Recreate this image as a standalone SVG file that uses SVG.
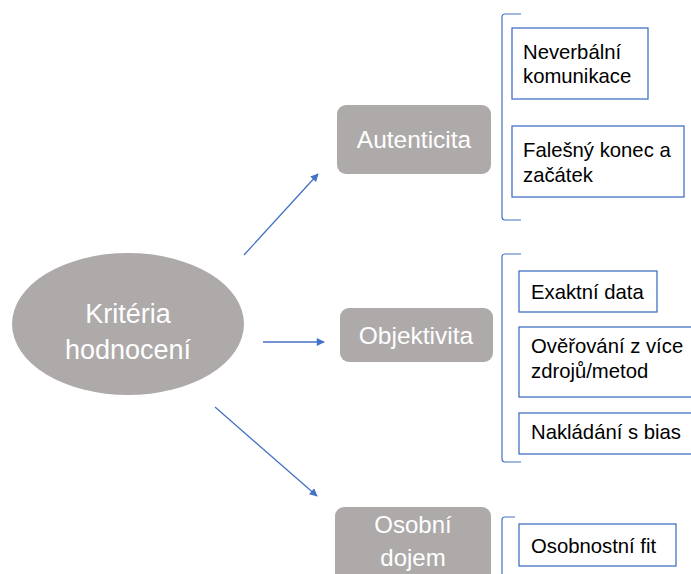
<svg xmlns="http://www.w3.org/2000/svg" width="691" height="574" viewBox="0 0 691 574">
<style>
.main{fill:#AEAAAA}
.wt{fill:#fff;font-family:"Liberation Sans",Arial,sans-serif;text-anchor:middle}
.box{fill:#fff;stroke:#4472C4;stroke-width:1.3}
.bt{fill:#000;font-family:"Liberation Sans",Arial,sans-serif;font-size:20.3px}
.br{fill:none;stroke:#4472C4;stroke-width:1.2}
.conn{fill:none;stroke:#4472C4;stroke-width:1.3;marker-end:url(#ah)}
</style>
<defs>
<marker id="ah" viewBox="0 0 10 10" refX="9" refY="5" markerWidth="9" markerHeight="8" orient="auto" markerUnits="userSpaceOnUse">
<path d="M0,0 L10,5 L0,10 z" fill="#4472C4"/>
</marker>
</defs>
<rect width="691" height="574" fill="#fff"/>
<g id="connectors">
<line class="conn" x1="244" y1="255" x2="318" y2="174"/>
<line class="conn" x1="263" y1="342" x2="324" y2="342"/>
<line class="conn" x1="215" y1="407" x2="317" y2="496"/>
</g>
<g id="root">
<ellipse class="main" cx="128" cy="324" rx="116" ry="71"/>
<text class="wt" font-size="27" x="128" y="323">Kritéria</text>
<text class="wt" font-size="27" x="128" y="359">hodnocení</text>
</g>
<g id="autenticita">
<rect class="main" x="337" y="105" width="154" height="69" rx="9"/>
<text class="wt" font-size="24.5" x="414" y="148">Autenticita</text>
</g>
<g id="objektivita">
<rect class="main" x="340" y="308" width="153" height="54" rx="9"/>
<text class="wt" font-size="24.5" x="416" y="344">Objektivita</text>
</g>
<g id="osobni-dojem">
<rect class="main" x="335" y="507" width="156" height="80" rx="9"/>
<text class="wt" font-size="24" x="413" y="533">Osobní</text>
<text class="wt" font-size="24" x="413" y="566">dojem</text>
</g>
<g id="bracket-1">
<path class="br" d="M521,14 H505 Q502,14 502,17 V217 Q502,220 505,220 H521"/>
</g>
<g id="bracket-2">
<path class="br" d="M521,254 H505 Q502,254 502,257 V459 Q502,462 505,462 H521"/>
</g>
<g id="bracket-3">
<path class="br" d="M515,517 H505 Q502,517 502,520 V580"/>
</g>
<g id="neverbalni">
<rect class="box" x="512" y="28" width="136" height="71"/>
<text class="bt" x="523" y="59">Neverbální</text>
<text class="bt" x="523" y="83">komunikace</text>
</g>
<g id="falesny">
<rect class="box" x="512" y="126" width="172" height="71"/>
<text class="bt" x="523" y="157">Falešný konec a</text>
<text class="bt" x="523" y="182">začátek</text>
</g>
<g id="exaktni">
<rect class="box" x="519" y="271" width="138" height="41"/>
<text class="bt" x="531" y="299">Exaktní data</text>
</g>
<g id="overovani">
<rect class="box" x="519" y="327" width="174" height="70"/>
<text class="bt" x="531" y="353">Ověřování z více</text>
<text class="bt" x="531" y="378">zdrojů/metod</text>
</g>
<g id="nakladani">
<rect class="box" x="519" y="413" width="174" height="41"/>
<text class="bt" x="531" y="439">Nakládání s bias</text>
</g>
<g id="osobnostni">
<rect class="box" x="519" y="524" width="157" height="42"/>
<text class="bt" x="531" y="553">Osobnostní fit</text>
</g>
</svg>
